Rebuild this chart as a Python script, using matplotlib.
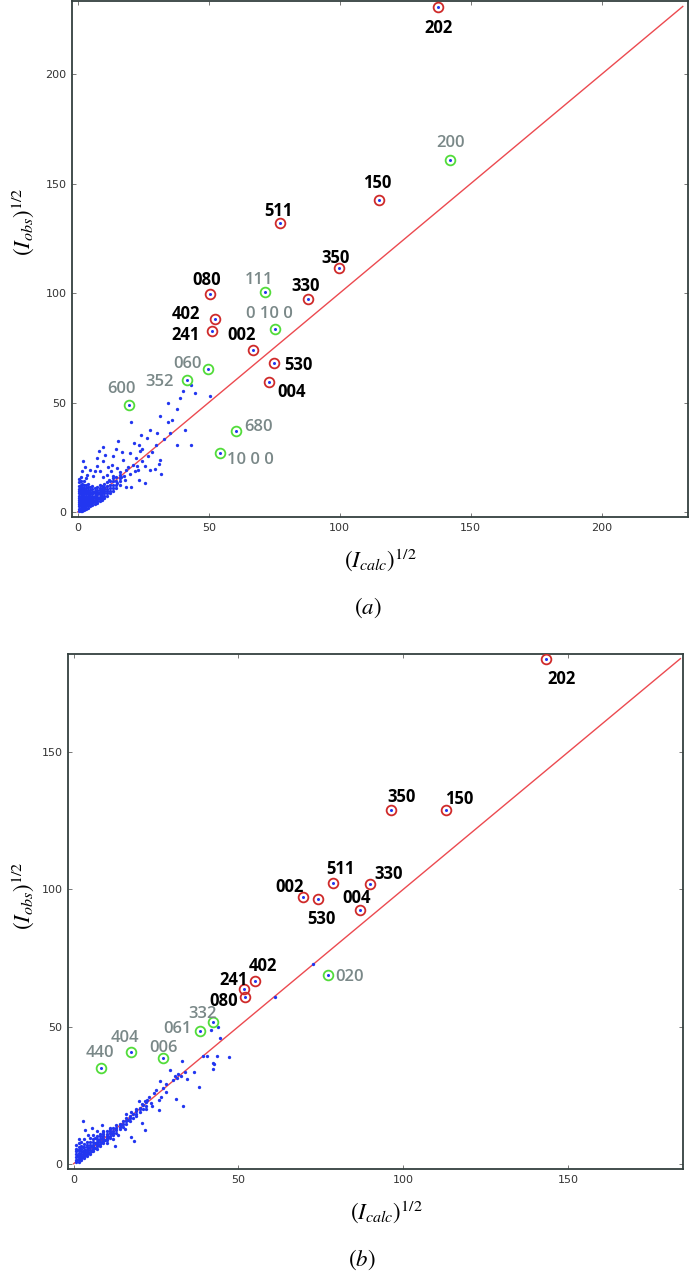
import numpy as np
import matplotlib
matplotlib.use("Agg")
from matplotlib import pyplot as plt

plt.rcParams["mathtext.fontset"] = "stix"

# ---- panel (a): labelled reflections ----
hkl_a = ["202", "200", "150", "511", "350", "080", "111", "330", "402", "0 10 0",
         "241", "002", "530", "060", "352", "004", "600", "680", "10 0 0"]
calc_a = [137.6, 142.3, 115.1, 77.4, 99.6, 50.6, 71.6, 87.8, 52.3, 75.4,
          51.3, 66.9, 75.1, 49.9, 41.7, 73.2, 19.4, 60.3, 54.2]
obs_a = [230.9, 161.0, 142.5, 132.2, 111.5, 99.8, 100.3, 97.5, 88.4, 83.6,
         82.5, 73.8, 68.0, 65.3, 60.5, 59.2, 48.7, 36.8, 26.8]
kind_a = ["r", "g", "r", "r", "r", "r", "g", "r", "r", "g",
          "r", "r", "r", "g", "g", "r", "g", "g", "g"]

# ---- panel (b): labelled reflections ----
hkl_b = ["202", "350", "150", "511", "002", "530", "330", "004", "402",
         "241", "080", "020", "332", "061", "006", "404", "440"]
calc_b = [143.2, 96.2, 112.9, 78.6, 69.5, 74.2, 89.9, 87.0, 55.1,
          51.8, 52.0, 77.1, 42.3, 38.4, 27.1, 17.4, 8.2]
obs_b = [183.9, 128.7, 128.7, 102.2, 97.0, 96.4, 102.0, 92.6, 66.6,
         63.7, 60.6, 68.6, 51.7, 48.4, 38.6, 40.7, 35.0]
kind_b = ["r", "r", "r", "r", "r", "r", "r", "r", "r",
          "r", "r", "g", "g", "g", "g", "g", "g"]

# ---- all other reflections (calc, obs) ----
refl_a = [
    (2.1, 23.4), (8.2, 28.0), (9.8, 29.5), (15.5, 32.6), (20.2, 40.9), (23.5, 30.7), (23.7, 27.7), (24.5, 29.0),
    (26.3, 33.8), (27.5, 37.6), (30.3, 36.3), (31.3, 43.7), (34.5, 50.0), (34.5, 41.1), (36.1, 42.2), (37.7, 47.0),
    (37.7, 30.7), (40.0, 55.4), (40.9, 37.3), (43.4, 30.4), (44.7, 54.3), (43.4, 58.1), (50.4, 53.2), (39.0, 52.0),
    (31.3, 23.9), (31.1, 22.1), (31.6, 17.5), (29.4, 19.6), (23.5, 14.7), (25.6, 13.2), (18.6, 11.4), (20.5, 11.4),
    (12.0, 14.7), (16.1, 18.1), (13.0, 21.6), (9.8, 23.1), (7.2, 24.6), (13.6, 25.4), (17.4, 23.9), (19.9, 26.9),
    (22.4, 24.6), (21.2, 21.6), (19.3, 20.5), (23.1, 19.3), (24.4, 23.1), (25.6, 20.8), (27.5, 19.3), (4.7, 19.3),
    (3.4, 17.1), (5.9, 16.3), (8.5, 18.6), (11.0, 17.1), (14.8, 13.2), (17.5, 16.5), (18.5, 19.0), (20.0, 17.5),
    (21.8, 18.5), (22.5, 20.8), (15.0, 20.0), (11.5, 20.5), (7.5, 21.0), (10.5, 26.0), (26.8, 25.5), (28.5, 27.2),
    (29.8, 30.5), (33.0, 33.5), (35.2, 36.0), (17.0, 27.5), (14.5, 29.0), (21.5, 31.5), (24.0, 35.0), (18.0, 14.5),
    (16.5, 16.0), (13.5, 16.5), (12.5, 18.8), (9.5, 16.0), (6.5, 18.5), (2.8, 20.5), (1.5, 18.5), (3.0, 15.5),
    # dense region near the origin
    (0.6, 0.5), (0.6, 1.5), (0.6, 2.5), (0.6, 3.5), (0.6, 4.5), (0.6, 5.5), (0.6, 6.5), (0.6, 7.5),
    (0.6, 8.5), (0.6, 9.5), (0.6, 10.5), (0.6, 12.0), (0.6, 13.5), (0.6, 15.0),
    (1.2, 0.3), (1.2, 1.0), (1.2, 2.0), (1.2, 3.0), (1.2, 4.0), (1.2, 5.0), (1.2, 6.0), (1.2, 7.0),
    (1.2, 8.0), (1.2, 9.0), (1.2, 10.0), (1.2, 11.0), (1.2, 12.5), (1.2, 14.0), (1.2, 16.0),
    (1.8, 0.8), (1.8, 1.6), (1.8, 2.4), (1.8, 3.2), (1.8, 4.0), (1.8, 5.0), (1.8, 6.0), (1.8, 7.0),
    (1.8, 8.0), (1.8, 9.0), (1.8, 10.0), (1.8, 11.5), (1.8, 13.0),
    (2.5, 1.0), (2.5, 2.0), (2.5, 3.0), (2.5, 4.0), (2.5, 5.0), (2.5, 6.0), (2.5, 7.0), (2.5, 8.0),
    (2.5, 9.0), (2.5, 10.0), (2.5, 11.0), (2.5, 12.5), (2.5, 14.0),
    (3.2, 1.5), (3.2, 2.5), (3.2, 3.5), (3.2, 4.5), (3.2, 5.5), (3.2, 6.5), (3.2, 7.5), (3.2, 8.5),
    (3.2, 9.5), (3.2, 11.0), (3.2, 12.5),
    (4.0, 2.0), (4.0, 3.0), (4.0, 4.0), (4.0, 5.0), (4.0, 6.0), (4.0, 7.0), (4.0, 8.0), (4.0, 9.0),
    (4.0, 10.0), (4.0, 11.5), (4.0, 13.0),
    (4.8, 2.5), (4.8, 3.5), (4.8, 4.5), (4.8, 5.5), (4.8, 6.5), (4.8, 7.5), (4.8, 8.5), (4.8, 10.0), (4.8, 11.5),
    (5.6, 3.0), (5.6, 4.0), (5.6, 5.0), (5.6, 6.0), (5.6, 7.0), (5.6, 8.0), (5.6, 9.0), (5.6, 10.5), (5.6, 12.0),
    (6.5, 3.5), (6.5, 4.5), (6.5, 5.5), (6.5, 6.5), (6.5, 7.5), (6.5, 8.5), (6.5, 9.5), (6.5, 11.0),
    (7.4, 4.0), (7.4, 5.0), (7.4, 6.0), (7.4, 7.0), (7.4, 8.0), (7.4, 9.0), (7.4, 10.0), (7.4, 11.5),
    (8.3, 5.0), (8.3, 6.0), (8.3, 7.0), (8.3, 8.0), (8.3, 9.0), (8.3, 10.0), (8.3, 11.0), (8.3, 12.5),
    (9.2, 5.5), (9.2, 6.5), (9.2, 7.5), (9.2, 8.5), (9.2, 9.5), (9.2, 10.5), (9.2, 12.0),
    (10.2, 6.5), (10.2, 7.5), (10.2, 8.5), (10.2, 9.5), (10.2, 10.5), (10.2, 11.5), (10.2, 13.0),
    (11.2, 7.5), (11.2, 8.5), (11.2, 9.5), (11.2, 10.5), (11.2, 12.0), (11.2, 13.5),
    (12.3, 8.5), (12.3, 9.5), (12.3, 11.0), (12.3, 12.5), (12.3, 14.0),
    (13.5, 9.5), (13.5, 11.0), (13.5, 12.5), (13.5, 14.0), (13.5, 15.5),
    (14.7, 11.0), (14.7, 12.5), (14.7, 14.0), (14.7, 16.0),
    (16.0, 12.5), (16.0, 14.0), (16.0, 15.5), (16.0, 17.0),
    (0.9, 1.0), (0.9, 3.0), (0.9, 5.0), (0.9, 7.0), (0.9, 9.0), (0.9, 11.0), (1.5, 0.6), (1.5, 2.5),
    (1.5, 4.5), (1.5, 6.5), (1.5, 8.5), (1.5, 10.5), (2.1, 1.5), (2.1, 3.5), (2.1, 5.5), (2.1, 7.5),
    (2.1, 9.5), (2.9, 2.5), (2.9, 4.5), (2.9, 6.5), (2.9, 8.5), (3.6, 3.0), (3.6, 5.0), (3.6, 7.0),
    (3.6, 9.0), (4.4, 3.5), (4.4, 5.5), (4.4, 7.5), (5.2, 4.5), (5.2, 6.5), (5.2, 8.5), (6.0, 5.0),
    (6.0, 7.0), (6.0, 9.0), (6.9, 6.0), (6.9, 8.0), (7.8, 6.5), (7.8, 8.5), (8.8, 8.0), (9.7, 9.0),
]

refl_b = [
    (3.0, 15.7), (3.5, 12.4), (8.6, 14.2), (12.6, 6.6), (18.2, 8.4), (17.5, 9.9), (21.7, 12.4), (20.7, 14.8),
    (19.7, 22.7), (20.8, 21.8), (22.2, 23.3), (23.7, 20.9), (25.8, 23.3), (25.8, 19.7), (26.3, 30.0), (25.1, 27.0),
    (29.3, 34.2), (30.8, 31.8), (32.8, 37.3), (33.8, 33.6), (36.6, 33.6), (34.4, 31.0), (31.1, 23.5), (33.1, 20.9),
    (37.9, 27.8), (39.2, 39.4), (40.4, 39.2), (42.6, 36.3), (42.2, 34.7), (43.4, 39.2), (47.0, 38.8), (31.8, 32.8),
    (43.9, 49.8), (44.3, 46.0), (41.6, 48.9), (42.2, 36.7), (72.7, 72.8), (61.1, 60.6), (30.0, 30.5), (31.5, 31.2),
    (32.5, 32.0), (28.0, 29.0), (27.0, 27.5), (24.5, 25.8), (23.0, 24.2), (21.5, 22.8), (20.0, 20.0), (18.8, 19.8),
    (17.5, 18.9), (16.5, 16.0), (19.0, 17.5), (22.0, 20.0), (23.5, 22.0), (26.5, 24.5), (28.0, 26.0), (15.5, 12.5),
    (13.5, 10.5), (12.0, 9.0), (10.0, 7.5), (9.0, 11.5), (7.0, 12.0), (5.5, 13.0), (4.5, 10.5), (6.5, 9.5),
    (11.0, 12.5), (14.5, 14.0), (16.0, 18.0),
    # dense region near the origin
    (0.8, 0.5), (0.8, 1.5), (0.8, 2.5), (0.8, 3.5), (0.8, 4.5), (0.8, 5.5), (0.8, 7.0),
    (1.5, 0.8), (1.5, 1.6), (1.5, 2.4), (1.5, 3.2), (1.5, 4.0), (1.5, 5.0), (1.5, 6.0), (1.5, 7.5), (1.5, 9.0),
    (2.3, 1.3), (2.3, 2.1), (2.3, 2.9), (2.3, 3.7), (2.3, 4.5), (2.3, 5.5), (2.3, 6.5), (2.3, 8.0),
    (3.1, 2.0), (3.1, 2.8), (3.1, 3.6), (3.1, 4.4), (3.1, 5.2), (3.1, 6.2), (3.1, 7.2), (3.1, 9.0),
    (4.0, 2.7), (4.0, 3.5), (4.0, 4.3), (4.0, 5.1), (4.0, 6.0), (4.0, 7.0), (4.0, 8.0),
    (5.0, 3.5), (5.0, 4.3), (5.0, 5.1), (5.0, 6.0), (5.0, 7.0), (5.0, 8.0), (5.0, 9.5),
    (6.0, 4.5), (6.0, 5.3), (6.0, 6.1), (6.0, 7.0), (6.0, 8.0), (6.0, 9.0), (6.0, 10.5),
    (7.0, 5.5), (7.0, 6.3), (7.0, 7.1), (7.0, 8.0), (7.0, 9.0), (7.0, 10.0),
    (8.0, 6.5), (8.0, 7.3), (8.0, 8.1), (8.0, 9.0), (8.0, 10.0), (8.0, 11.0),
    (9.0, 7.5), (9.0, 8.3), (9.0, 9.1), (9.0, 10.0), (9.0, 11.0), (9.0, 12.0),
    (10.0, 8.5), (10.0, 9.3), (10.0, 10.1), (10.0, 11.0), (10.0, 12.0),
    (11.0, 9.5), (11.0, 10.3), (11.0, 11.1), (11.0, 12.0), (11.0, 13.0),
    (12.0, 10.5), (12.0, 11.3), (12.0, 12.1), (12.0, 13.0),
    (13.0, 11.3), (13.0, 12.2), (13.0, 13.1), (13.0, 14.0),
    (14.0, 12.5), (14.0, 13.5), (14.0, 14.5), (15.0, 13.5), (15.0, 14.5), (15.0, 15.5),
    (16.0, 14.5), (16.0, 15.5), (16.0, 16.5), (17.0, 15.5), (17.0, 16.5), (17.0, 17.5),
    (18.0, 16.8), (18.0, 18.0), (19.0, 18.0), (19.0, 19.2), (20.0, 19.0), (20.0, 20.5),
    (21.0, 20.0), (21.0, 21.5), (22.0, 21.0), (22.0, 22.5),
    (1.1, 1.2), (1.1, 3.0), (1.1, 5.0), (1.9, 1.9), (1.9, 3.6), (1.9, 5.5), (2.7, 2.5), (2.7, 4.2),
    (2.7, 6.0), (3.5, 3.2), (3.5, 5.0), (4.5, 4.0), (4.5, 5.7), (5.5, 4.8), (5.5, 6.6), (6.5, 5.8),
    (6.5, 7.5), (7.5, 6.8), (7.5, 8.5), (8.5, 7.8), (8.5, 9.5), (9.5, 8.8), (10.5, 9.8), (11.5, 10.8),
]

# label offsets in pixels from the reflection
offs_a = [(0, -19), (0, 19), (-2, 19), (-2, 14), (-3, 12), (-4, 16), (-6, 14), (-2, 15), (-29, 7), (-6, 17),
          (-27, -2), (-11, 17), (24, 0), (-21, 7), (-27, 0), (22, -8), (-7, 18), (23, 6), (31, -5)]
offs_b = [(16, -18), (11, 15), (13, 13), (8, 16), (-13, 12), (3, -18), (19, 12), (-4, 14), (8, 17),
          (-11, 11), (-21, -2), (22, 0), (-11, 10), (-23, 4), (0, 12), (-6, 16), (-1, 17)]

W, H = 692, 1278
fig = plt.figure(figsize=(W / 100, H / 100), dpi=100)

BLUE = "#2236f0"
RING = {"r": "#cf2a2a", "g": "#52dc3a"}
LABEL = {"r": ("black", "bold"), "g": ("#7a8888", "semibold")}


def draw_panel(rect, refl, calc, obs, kind, hkl, offs, lim, line_end, ticks):
    ax = fig.add_axes(rect)
    pts = np.array(refl)
    ax.plot([0, line_end], [0, line_end], color="#ec4a50", lw=1.0, zorder=1)
    ax.plot(pts[:, 0], pts[:, 1], "o", ms=2.4, color=BLUE, mec="none", zorder=2)
    for x, y, k, lab, (dx, dy) in zip(calc, obs, kind, hkl, offs):
        ax.plot(x, y, "o", ms=7, mfc="none", mec=RING[k], mew=1.3, zorder=3)
        ax.plot(x, y, "o", ms=2.2, color=BLUE, mec="none", zorder=4)
        col, wt = LABEL[k]
        ax.annotate(lab, (x, y), xytext=(dx, dy), textcoords="offset pixels",
                    ha="center", va="center_baseline", fontsize=12, color=col,
                    fontweight=wt, family=["Open Sans", "DejaVu Sans"])
    ax.set_xlim(*lim[0])
    ax.set_ylim(*lim[1])
    ax.set_xticks(ticks)
    ax.set_yticks(ticks)
    ax.tick_params(direction="in", length=3, width=0.7, color="#777777",
                   top=True, right=True, labelsize=8, labelcolor="#333333", pad=4)
    for s in ax.spines.values():
        s.set_color("#34403f")
        s.set_linewidth(1.3)
    return ax


def fx(px):
    return px / W


def fy(py):
    return 1 - py / H


draw_panel([fx(72), fy(517), fx(688) - fx(72), fy(1) - fy(517)],
           refl_a, calc_a, obs_a, kind_a, hkl_a, offs_a,
           ((-2.2, 233), (-2.3, 233.5)), 231, [0, 50, 100, 150, 200])
draw_panel([fx(68), fy(1169), fx(683) - fx(68), fy(654) - fy(1169)],
           refl_b, calc_b, obs_b, kind_b, hkl_b, offs_b,
           ((-1.7, 184.8), (-1.9, 185.7)), 184, [0, 50, 100, 150])

lab_kw = dict(fontsize=16.5, ha="center", va="center")
fig.text(fx(23), fy(222), r"$(I_{obs})^{1/2}$", rotation=90, **lab_kw)
fig.text(fx(380), fy(560), r"$(I_{calc})^{1/2}$", **lab_kw)
fig.text(fx(368), fy(608), r"$(a)$", **lab_kw)
fig.text(fx(23), fy(896), r"$(I_{obs})^{1/2}$", rotation=90, **lab_kw)
fig.text(fx(386), fy(1212), r"$(I_{calc})^{1/2}$", **lab_kw)
fig.text(fx(362), fy(1260), r"$(b)$", **lab_kw)

fig.savefig("out.png", dpi=100)
